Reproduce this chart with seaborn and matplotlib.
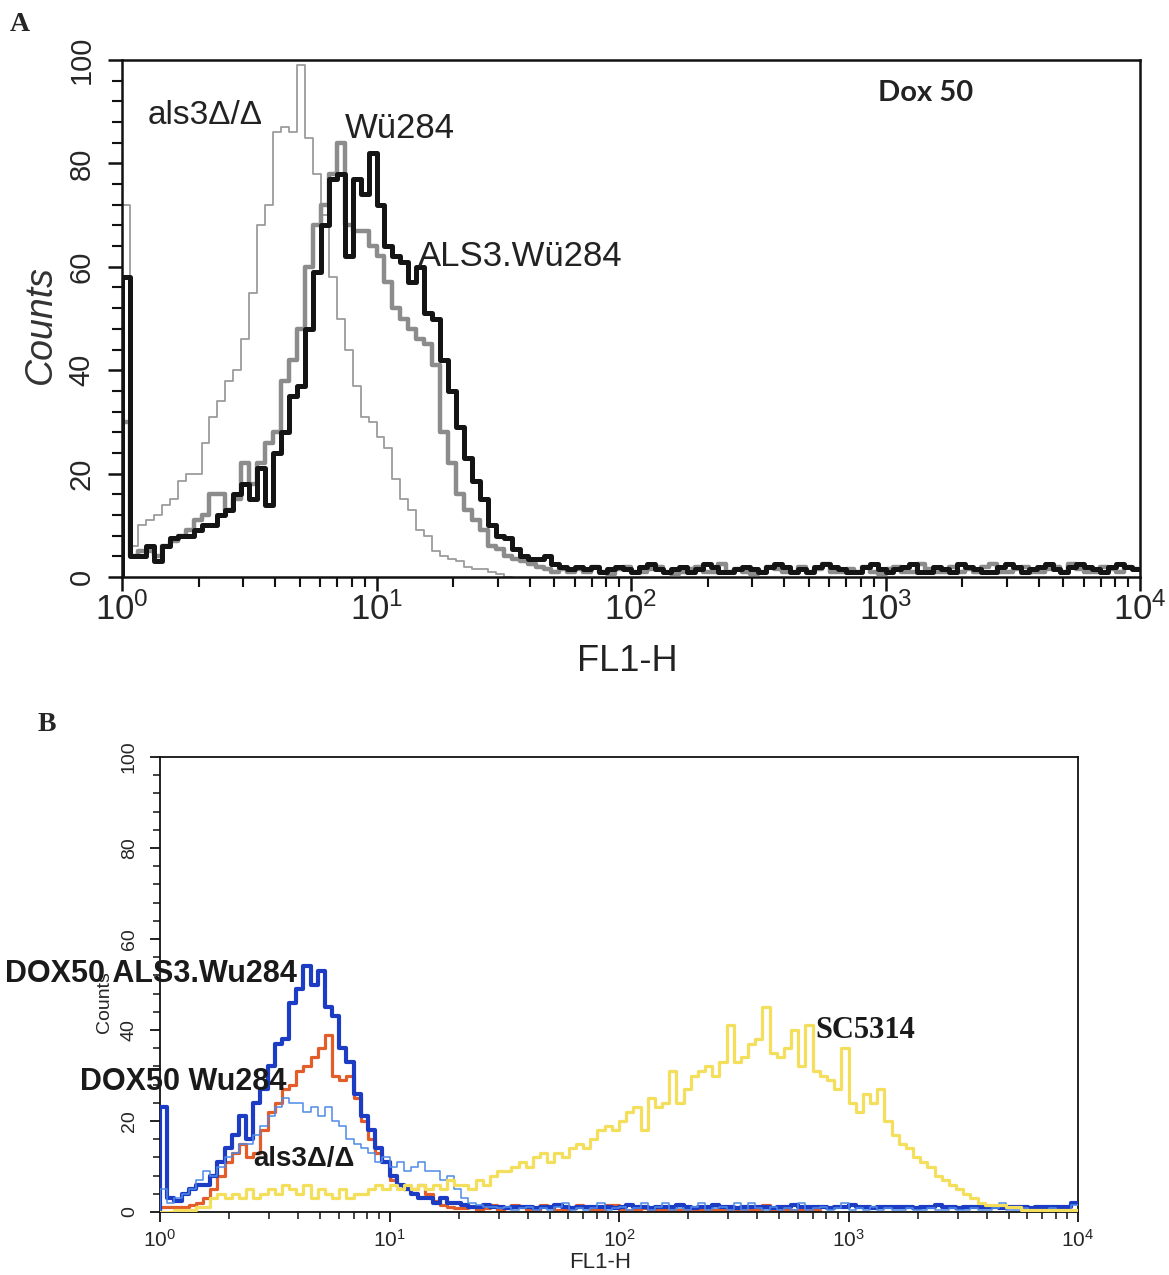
import numpy as np
import pandas as pd
import matplotlib
matplotlib.use("Agg")
import matplotlib.pyplot as plt
import seaborn as sns
from matplotlib.ticker import MultipleLocator, LogLocator, NullFormatter

W, H = 1169, 1275
BINS_PER_DECADE = 32   # histogram channels: bin i starts at 10**(i/32)

# ---- panel A (Dox 50), counts per bin
a_als3_null = [72, 6, 10, 11, 12, 14, 15, 18.5, 20, 20,
               26, 31, 34, 38, 40, 46, 55, 68, 72, 86,
               87, 86, 99, 85, 78, 70, 58, 50, 44, 37,
               31, 30, 27, 25, 19, 15, 13, 9, 8, 5,
               4, 3.5, 3, 2, 1.5, 1.5, 1, 0.5, 0]
a_wu284 = [30, 4, 5, 5, 4, 6, 7, 8, 9, 11,
           12, 16, 16, 13, 15, 22, 18, 22, 26, 28,
           38, 42, 48, 60, 68, 72, 78, 84, 68, 67,
           67, 64, 62, 57, 52, 50, 48, 46, 45, 41,
           28, 22, 16, 13, 11, 9, 6, 5.5, 4, 3.5,
           3, 2.5, 2, 1.5, 1, 1.5,
           1, 1.5, 1, 2, 1, 0.5, 1.5, 2, 1, 1,
           1.5, 2, 1, 0.5, 1, 1.5, 2, 1, 1, 2.5,
           1, 1.5, 1, 0.5, 1, 2, 1.5, 1, 1, 2,
           1, 1.5, 2.5, 1, 1, 1.5, 1, 2, 1, 0.5,
           1.5, 2, 1, 1, 2.5, 1.5, 1, 1, 2, 1,
           1.5, 1, 2, 2.5, 1, 1, 1.5, 2, 1, 1,
           1.5, 2, 1, 2.5, 1.5, 1, 1, 2, 1.5, 1,
           2, 1.5]
a_als3_wu284 = [58, 4, 4, 6, 3, 6, 7.5, 8, 8, 9,
                10, 10, 12, 13, 16, 18, 15, 21, 14, 24,
                28, 35, 37, 48, 59, 68, 77, 78, 62, 77,
                74, 82, 72, 64, 62, 61, 57, 60, 51, 50,
                42, 36, 29, 23, 18.5, 15, 10, 8, 7.5, 5.5,
                4, 3.5, 3.5, 4, 2.5, 2, 1.5,
                2, 1.5, 2, 1, 1.5, 2, 1.5, 1, 2, 2.5,
                1.5, 1, 1.5, 2, 1, 1.5, 2.5, 2, 1, 1,
                1.5, 2, 1.5, 1, 2, 2.5, 2, 1, 1.5, 1,
                2, 2.5, 2, 1.5, 1, 1, 2, 2.5, 1.5, 1,
                1.5, 2, 2.5, 1, 1, 2, 1.5, 1, 2.5, 2,
                1.5, 1, 1, 2, 2.5, 2, 1, 1.5, 2, 2.5,
                1.5, 1, 2, 2.5, 2, 1.5, 1, 2, 2.5, 2, 1.5]

# ---- panel B
b_dox50_wu284 = [1, 1, 1, 1, 1.5, 2, 3, 5, 8, 11,
                 13, 15, 12, 13, 18, 22, 24, 27, 28, 31,
                 32, 34, 36, 39, 30, 29, 30, 25, 20, 16,
                 13, 11, 7, 6, 5, 5, 6, 4, 2.5, 1.5,
                 1, 0.8,
                 0.8, 1, 0.5, 0.8, 1.5, 0.5, 0.8, 1.5, 1, 0.5,
                 0.5, 1.5, 1, 0.5, 0.5, 0.8, 1.5, 1, 0.5, 0.5,
                 1.5, 1.5, 0.5, 0.5, 0.5, 0.8, 0.5, 0.5, 0.5, 0.5,
                 0.5, 0.5, 0.5, 0.5, 0.5, 0.5, 0.5, 0.5, 0.5, 0.5,
                 0.5, 0.5, 1.5, 0.5, 0.5, 0.5, 0.5, 0.5, 0.5, 0.5]
b_dox50_als3_wu284 = [23, 3, 2.5, 4, 5, 6, 6, 8, 11, 14,
                      17, 21, 16, 24, 27, 32, 37, 38, 46, 49,
                      54, 50, 53, 45, 43, 36, 33, 26, 21, 18,
                      14, 11, 8, 6, 5, 4, 3, 3, 2, 3,
                      2, 2, 1.5, 1,
                      1, 1.5, 1, 1, 0.8, 1, 1.2, 1, 0.8, 1,
                      1, 1.5, 1, 0.8, 1, 1, 1.2, 1, 1, 0.8,
                      1, 1.5, 1, 1, 0.8, 1, 1, 1.2, 1.5, 1,
                      0.8, 1, 1, 1.5, 1, 1, 0.8, 1, 1.2, 1,
                      1, 0.8, 1, 1, 1.5, 1, 1, 1.2, 1, 0.8,
                      1, 1, 1.5, 1, 1, 0.8, 1, 1, 1.2, 1,
                      1, 0.8, 1, 1, 1.5, 1, 1, 0.8, 1, 1,
                      1.2, 1, 1, 0.8, 1, 1, 1, 0.8, 1, 1,
                      1, 1, 1, 2]
b_als3_null = [5, 2, 3, 4, 5, 7, 9, 8, 10, 12,
               13, 15, 15, 17, 19, 21, 23, 25, 24, 24,
               22, 23, 21, 23, 20, 19, 16, 15, 14, 13,
               11, 12, 10, 11, 9, 10, 11, 9, 9, 7,
               8, 5, 3, 2, 1.5, 1,
               1, 0.8, 1, 0.5, 0.8, 1, 0.5, 0.8, 0.5, 1,
               2, 0.5, 0.8, 0.5, 0.8, 2, 0.5, 0.8, 1, 0.5,
               0.8, 2, 0.5, 1, 2, 0.5, 0.8, 0.5, 1, 2,
               0.5, 0.8, 1, 0.5, 2, 0.5, 2, 0.8, 0.5, 1,
               0.5, 0.8, 0.5, 2, 0.5, 0.8, 1, 0.5, 0.8, 2,
               0.5, 0.8, 0.5, 1, 0.5, 0.8, 0.5, 0.5, 0.8, 0.5,
               0.5, 0.8, 0.5, 0.5, 0.8, 0.5, 0.5, 0.8, 0.5, 0.5,
               0.8, 2, 0.5, 0.5, 0.8, 0.5, 0.5, 0.5, 0.8, 0.5,
               0.5, 1.5]
b_sc5314 = [0, 0, 0.5, 0.5, 0.5, 1, 1, 3, 4, 3,
            4, 3, 5, 3, 4, 5, 4, 6, 5, 4,
            6, 3, 5, 4, 3, 5, 3, 4, 4, 5,
            6, 5, 6, 5, 6, 5, 6, 5, 6, 5,
            7, 6, 6, 5, 7, 6, 8, 9, 9, 10,
            11, 10, 12, 13, 11, 13, 12, 14, 15, 14,
            16, 18, 19, 18, 20, 22, 23, 18, 25, 23,
            24, 31, 24, 27, 30, 31, 32, 30, 33, 41,
            33, 34, 37, 38, 45, 35, 34, 36, 40, 32,
            41, 31, 30, 29, 27, 36, 24, 22, 26, 24,
            27, 20, 17, 15, 14, 12, 11, 10, 8, 7,
            6, 5, 4, 3, 2, 1.5, 1.5, 1.5, 1, 1,
            0.5, 0.5, 0.5, 0.5, 0.5, 0.5, 0.5, 0.5]

decade_labels = [r"$\mathdefault{10^{%d}}$" % k for k in range(5)]
decades = [10 ** k for k in range(5)]
count_ticks = [0, 20, 40, 60, 80, 100]

NARROW = ["Liberation Sans Narrow", "Liberation Sans", "DejaVu Sans"]
SANS = ["Liberation Sans", "DejaVu Sans"]
SERIF = ["Liberation Serif", "DejaVu Serif"]

sns.set_style("ticks")
plt.rcParams["font.family"] = SANS


def hist_frame(values):
    n = len(values)
    edges = 10 ** (np.arange(n + 1) / BINS_PER_DECADE)
    x = np.concatenate([[edges[0]], edges])
    y = np.concatenate([[0], values, [values[-1]]])
    return pd.DataFrame({"FL1-H": x, "Counts": y})


def draw(ax, values, color, lw, z):
    sns.lineplot(data=hist_frame(values), x="FL1-H", y="Counts", ax=ax,
                 color=color, linewidth=lw, drawstyle="steps-post",
                 estimator=None, sort=False, zorder=z)


def style(ax, lw, major_len, minor_len, ysize, ypad, xsize, xpad, yfont, xfont):
    ax.set_xscale("log")
    ax.set_xlim(1, 1e4)
    ax.set_ylim(0, 100)
    ax.set_xticks(decades, labels=decade_labels, fontsize=xsize, fontfamily=xfont)
    ax.xaxis.set_minor_locator(LogLocator(base=10, subs=np.arange(2, 10), numticks=50))
    ax.xaxis.set_minor_formatter(NullFormatter())
    ax.set_yticks(count_ticks, labels=[str(v) for v in count_ticks], fontsize=ysize,
                  fontfamily=yfont, rotation=90, va="center")
    ax.yaxis.set_minor_locator(MultipleLocator(4))
    ax.tick_params(which="major", direction="out", length=major_len, width=lw, color="#111111")
    ax.tick_params(which="minor", direction="out", length=minor_len, width=lw * 0.85, color="#111111")
    ax.tick_params(axis="y", pad=ypad)
    ax.tick_params(axis="x", pad=xpad)
    for s in ax.spines.values():
        s.set_linewidth(lw)
        s.set_color("#111111")
    ax.set_xlabel("")
    ax.set_ylabel("")


fig = plt.figure(figsize=(W / 100, H / 100), dpi=100)
axA = fig.add_axes([122 / W, 1 - 577 / H, 1018 / W, 517 / H])
axB = fig.add_axes([160 / W, 1 - 1212 / H, 918 / W, 455 / H])

# panel A
draw(axA, a_als3_null, "#9c9c9c", 1.3, 2)
draw(axA, a_wu284, "#8c8c8c", 3.2, 3)
draw(axA, a_als3_wu284, "#141414", 3.6, 4)
style(axA, 1.8, 10, 7, 21, 9, 25, 1, SANS, NARROW)

# panel B
draw(axB, b_dox50_wu284, "#e35d2a", 2.3, 2)
draw(axB, b_dox50_als3_wu284, "#1c3cc4", 3.0, 3)
draw(axB, b_als3_null, "#4d8ae6", 1.1, 4)
draw(axB, b_sc5314, "#f4df5c", 2.3, 5)
style(axB, 1.3, 7, 5, 14, 9, 15, 5, NARROW, NARROW)


def put(x, y, s, **kw):
    fig.text(x / W, 1 - y / H, s, **kw)


put(10, 31, "A", family=SERIF, weight="bold", fontsize=20)
put(148, 124, "als3Δ/Δ", fontsize=24, color="#222222")
put(345, 138, "Wü284", fontsize=25, color="#222222")
put(418, 266, "ALS3.Wü284", fontsize=25, color="#222222")
put(878, 101, "Dox 50", family=["Lato", "DejaVu Sans"], weight="bold", fontsize=21, color="#222222")
put(41, 325, "Counts", fontsize=27, style="italic", rotation=90, ha="center", va="center", color="#333333")
put(627, 662, "FL1-H", family=NARROW, fontsize=26, ha="center", va="center", color="#222222")

put(38, 731, "B", family=SERIF, weight="bold", fontsize=20)
put(105, 1002, "Counts", family=NARROW, fontsize=14, rotation=90, ha="center", va="center")
put(5, 982, "DOX50 ALS3.Wu284", weight="bold", fontsize=22, color="#1a1a1a")
put(80, 1090, "DOX50 Wu284", weight="bold", fontsize=22, color="#1a1a1a")
put(253, 1166, "als3Δ/Δ", weight="bold", fontsize=20, color="#1a1a1a")
put(815, 1038, "SC5314", family=SERIF, weight="bold", fontsize=22, color="#1a1a1a")
put(600, 1262, "FL1-H", family=NARROW, fontsize=16, ha="center", va="center")

fig.savefig("out.png", dpi=100)
